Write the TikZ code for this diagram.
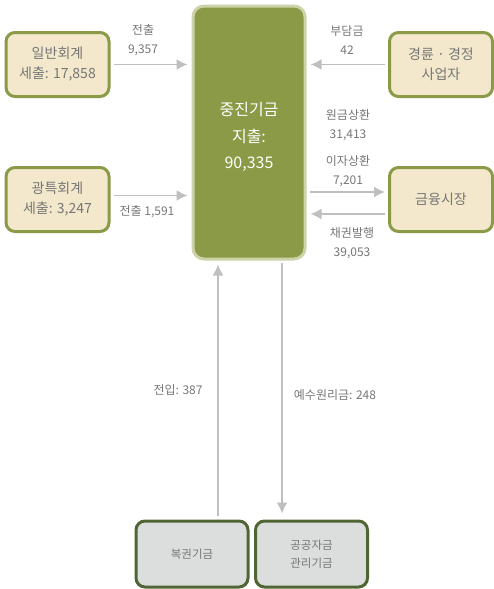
\documentclass[tikz,border=0pt]{standalone}
\usepackage{fontspec}
\setmainfont{Noto Sans CJK KR}
\usetikzlibrary{arrows.meta,calc}
\definecolor{olive}{HTML}{8A9A46}
\definecolor{olivelight}{HTML}{CDD2A8}
\definecolor{beige}{HTML}{F3E8CB}
\definecolor{darkgreen}{HTML}{4F6634}
\definecolor{boxgray}{HTML}{DCDDDD}
\definecolor{txt}{HTML}{767676}
\definecolor{arrgray}{HTML}{BEBFC1}
\tikzset{
  sidebox/.style={draw=olive, line width=3pt, fill=beige, rounded corners=9pt,
    minimum width=103pt, minimum height=64pt, align=center, text=txt,
    font=\fontsize{14}{20}\selectfont},
  botbox/.style={draw=darkgreen, line width=3pt, fill=boxgray, rounded corners=9pt,
    minimum width=112pt, minimum height=66pt, align=center, text=txt,
    font=\fontsize{11.5}{18}\selectfont},
  mainbox/.style={draw=olivelight, line width=3pt, fill=olive, rounded corners=11pt,
    minimum width=112pt, minimum height=253pt},
  maintext/.style={align=center, text=white, font=\fontsize{16}{26.5}\selectfont},
  arr/.style={draw=arrgray, line width=1.8pt, -{Latex[length=11pt,width=11pt]}},
  lbl/.style={text=txt, align=center, font=\fontsize{12}{18.5}\selectfont},
}
\begin{document}
\begin{tikzpicture}[x=1pt,y=-1pt]
\useasboundingbox (0,0) rectangle (494,589);
\node[mainbox] (main) at (249,132.5) {};
\node[maintext] (maint) at (249,137) {중진기금\\지출:\\90,335};
\node[sidebox] (ilban) at (57.5,64.5) {일반회계\\세출: 17,858};
\node[sidebox] (gwang) at (57.5,199.5) {광특회계\\세출: 3,247};
\node[sidebox] (gyeong) at (441,64.5) {경륜 · 경정\\사업자};
\node[sidebox] (geum) at (441,199.5) {금융시장};
\node[botbox] (bok) at (192,554) {복권기금};
\node[botbox] (gong) at (311.5,554) {공공자금\\관리기금};

% left inputs
\draw[arr, shorten <=3pt, shorten >=4pt] (ilban.east) -- (main.west |- ilban.east);
\coordinate (g2) at ($(gwang.east)+(0,-4)$);
\draw[arr, shorten <=3pt, shorten >=4pt] (g2) -- (main.west |- g2);
\node[lbl] (l1) at (143,40) {전출\\9,357};
\node[lbl] (l2) at (147,212) {전출 1,591};

% right side
\draw[arr, shorten <=3pt, shorten >=4pt] (gyeong.west) -- (main.east |- gyeong.west);
\node[lbl] (l3) at (347,40) {부담금\\42};
\coordinate (m1) at ($(geum.west)+(0,-7.5)$);
\coordinate (m2) at ($(geum.west)+(0,14.5)$);
\draw[arr, shorten <=3pt, shorten >=3pt] (main.east |- m1) -- (m1);
\draw[arr, shorten <=3pt, shorten >=4pt] (m2) -- (main.east |- m2);
\node[lbl] (l4) at (348,125) {원금상환\\31,413};
\node[lbl] (l5) at (348,171) {이자상환\\7,201};
\node[lbl] (l6) at (352,243) {채권발행\\39,053};

% bottom
\coordinate (b1) at ($(bok.north)+(26,-4)$);
\draw[arr, shorten >=4pt] (b1) -- (b1 |- main.south);
\coordinate (b2) at ($(gong.north)+(-29.5,-6)$);
\draw[arr, shorten <=2pt] (b2 |- main.south) -- (b2);
\node[lbl] (l7) at (178,390) {전입: 387};
\node[lbl] (l8) at (335,395) {예수원리금: 248};
\end{tikzpicture}
\end{document}
